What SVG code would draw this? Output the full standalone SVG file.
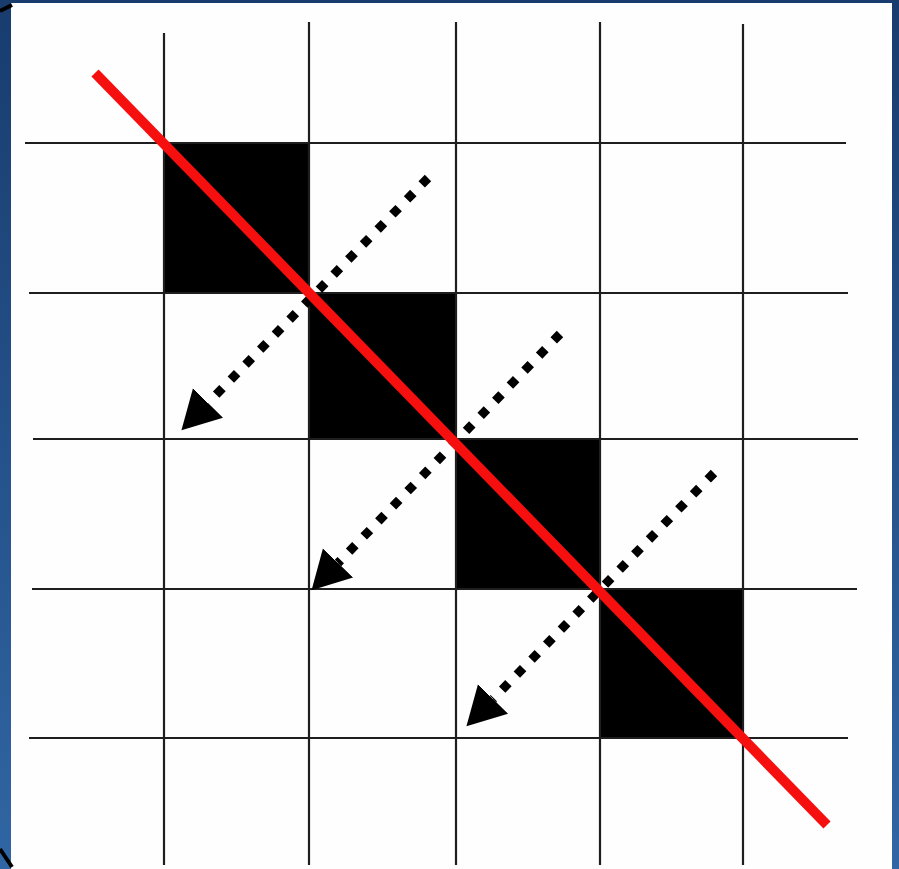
<svg xmlns="http://www.w3.org/2000/svg" width="899" height="869" viewBox="0 0 899 869">
<defs>
<linearGradient id="bg" x1="0" y1="0" x2="0" y2="1">
<stop offset="0" stop-color="#183c6e"/>
<stop offset="1" stop-color="#3066a4"/>
</linearGradient>
<marker id="ah" markerUnits="userSpaceOnUse" markerWidth="44" markerHeight="48" refX="0" refY="22" orient="auto" viewBox="0 0 44 44">
<path d="M0,1 L38,22 L0,43 z" fill="#000"/>
</marker>
<style>
.grid{stroke:#1e1e1e;stroke-width:2.2;fill:none}
.cell{fill:#000}
.dot{stroke:#000;stroke-width:9;stroke-dasharray:9 12;fill:none;marker-end:url(#ah)}
.red{stroke:#f50f0f;stroke-width:10;fill:none}
</style>
</defs>
<rect x="0" y="0" width="899" height="869" fill="url(#bg)"/>
<rect x="11" y="3" width="881" height="866" fill="#fefefe"/>
<path d="M0,11 L12,5" stroke="#000" stroke-width="4" fill="none"/>
<path d="M0,849 L12,867" stroke="#000" stroke-width="4" fill="none"/>
<g id="cells">
<rect class="cell" x="164" y="143" width="145" height="150"/>
<rect class="cell" x="309" y="293" width="147" height="146"/>
<rect class="cell" x="456" y="439" width="144" height="150"/>
<rect class="cell" x="600" y="589" width="143" height="149"/>
</g>
<g id="grid">
<line class="grid" x1="164" y1="33" x2="164" y2="865"/>
<line class="grid" x1="309" y1="22" x2="309" y2="865"/>
<line class="grid" x1="456" y1="22" x2="456" y2="865"/>
<line class="grid" x1="600" y1="22" x2="600" y2="865"/>
<line class="grid" x1="743" y1="24" x2="743" y2="865"/>
<line class="grid" x1="25" y1="143" x2="846" y2="143"/>
<line class="grid" x1="29" y1="293" x2="848" y2="293"/>
<line class="grid" x1="33" y1="439" x2="858" y2="439"/>
<line class="grid" x1="32" y1="589" x2="857" y2="589"/>
<line class="grid" x1="29" y1="738" x2="848" y2="738"/>
</g>
<g id="connectors">
<path class="dot" d="M428,178 L208,403"/>
<path class="dot" d="M560,334 L338,563"/>
<path class="dot" d="M714,473 L493,699"/>
</g>
<g id="redline">
<line class="red" x1="95" y1="73" x2="827" y2="825"/>
</g>
</svg>
